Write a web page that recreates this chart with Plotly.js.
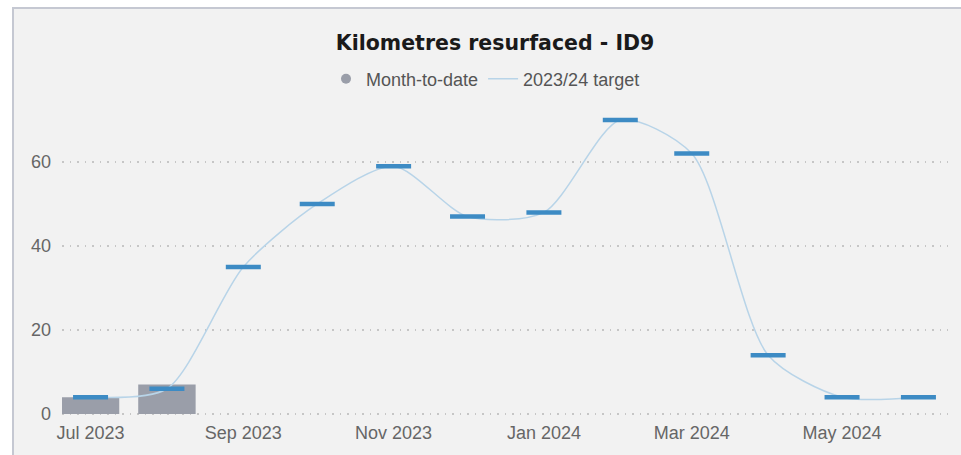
<!DOCTYPE html>
<html>
<head>
<meta charset="utf-8">
<script src="https://cdn.plot.ly/plotly-3.0.1.min.js"></script>
<style>
  html, body { margin: 0; padding: 0; background: #ffffff; }
  #frame {
    position: absolute; left: 12px; top: 7px;
    border-left: 2px solid #c5c8d2; border-top: 2px solid #c5c8d2;
  }
  #chart { width: 947px; height: 446px; }
</style>
</head>
<body>
<div id="frame"><div id="chart"></div></div>
<script>
// months of the 2023/24 financial year
var months = ['2023-07-01', '2023-08-01', '2023-09-01', '2023-10-01', '2023-11-01', '2023-12-01',
              '2024-01-01', '2024-02-01', '2024-03-01', '2024-04-01', '2024-05-01', '2024-06-01'];
var actualMonths = ['2023-07-01', '2023-08-01'];
var monthToDate = [4, 7];
var target = [4, 6, 35, 50, 59, 47, 48, 70, 62, 14, 4, 4];

var grey = '#9a9ea9';
var blue = '#3d8bc4';
var pale = '#b8d4e8';

var bars = {
  x: actualMonths, y: monthToDate, type: 'bar', name: 'Month-to-date',
  marker: { color: grey }, width: 23.3 * 86400000, showlegend: false,
  legendgroup: 'mtd'
};
// legend entry only (round dot like the original)
var mtdKey = {
  x: [null], y: [null], type: 'scatter', mode: 'markers', name: 'Month-to-date',
  marker: { color: grey, size: 10, symbol: 'circle' }, legendgroup: 'mtd'
};
var targetLine = {
  x: months, y: target, type: 'scatter', mode: 'lines', name: '2023/24 target',
  line: { color: pale, width: 1.5, shape: 'spline', smoothing: 0.75 }
};
var targetMarks = {
  x: months, y: target, type: 'scatter', mode: 'markers', name: '2023/24 target',
  showlegend: false,
  marker: { symbol: 'line-ew', size: 25, line: { color: blue, width: 4.5 } }
};

var layout = {
  width: 947, height: 446,
  paper_bgcolor: '#f2f2f2', plot_bgcolor: '#f2f2f2',
  margin: { l: 48, r: 13, t: 90, b: 40 },
  font: { family: 'Liberation Sans, Arial, sans-serif', color: '#666666', size: 18 },
  title: {
    text: '<b>Kilometres resurfaced - ID9</b>',
    font: { family: 'DejaVu Sans, sans-serif', size: 20.5, color: '#1a1a1a' },
    x: 0.508, xanchor: 'center', y: 1 - 34 / 446, yanchor: 'middle', yref: 'container'
  },
  showlegend: true,
  legend: {
    orientation: 'h', x: 0.478, xanchor: 'center', y: 1.063, yanchor: 'middle',
    font: { size: 18, color: '#555555' }, bgcolor: 'rgba(0,0,0,0)', itemwidth: 30
  },
  xaxis: {
    type: 'date', range: ['2023-06-19 10:00', '2024-06-13'],
    dtick: 'M2', tick0: '2023-07-01', tickformat: '%b %Y',
    showgrid: false, zeroline: false, showline: false, ticks: '',
    ticklabelstandoff: 5,
    tickfont: { size: 18, color: '#666666' }
  },
  yaxis: {
    range: [-0.25, 75], dtick: 20, showgrid: true, gridcolor: '#c6c6c6', gridwidth: 1.5,
    griddash: '1.5px,6px',
    zeroline: false, showline: false, ticks: '', ticklabelstandoff: 10,
    tickfont: { size: 18, color: '#666666' }
  },
  bargap: 0.2
};

Plotly.newPlot('chart', [bars, mtdKey, targetLine, targetMarks], layout, { displayModeBar: false });
</script>
</body>
</html>
